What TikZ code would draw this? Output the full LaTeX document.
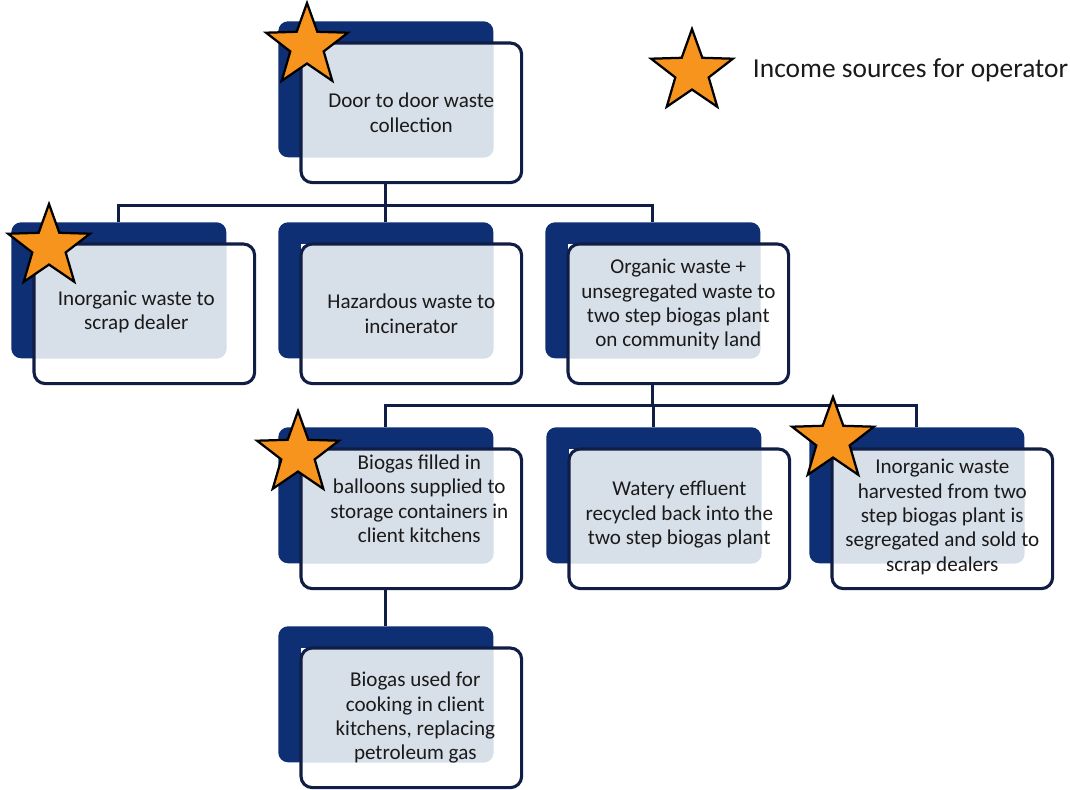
\documentclass[tikz,border=0pt]{standalone}
\usepackage{fontspec}
\setmainfont{Carlito}
\usepackage{xcolor}
\usepackage{tikz}
\usetikzlibrary{positioning, calc, shapes.geometric}
\definecolor{cnavy}{HTML}{0E2F73}
\definecolor{cedge}{HTML}{101E45}
\definecolor{cpale}{HTML}{D7DFE9}
\definecolor{cstar}{HTML}{F7941E}
\definecolor{ctext}{HTML}{1A1A1A}

\tikzset{
  backbox/.style={fill=cnavy, rounded corners=7pt, minimum width=5.375cm, minimum height=3.4cm,
    inner sep=0pt, anchor=north west},
  frontbox/.style={fill=white, minimum width=5.5cm, minimum height=3.475cm, inner sep=0pt,
    anchor=north west},
  cardedge/.style={draw=cedge, line width=2.2pt, rounded corners=8pt},
  cardtext/.style={font=\fontsize{15}{17.3}\selectfont, text=ctext, align=center},
  conn/.style={draw=cedge, line width=2.2pt},
  incstar/.style={star, star points=5, star point ratio=2.45, minimum size=2.15cm, inner sep=0pt,
    fill=cstar, draw=black, line width=1.6pt}
}

\begin{document}
\begin{tikzpicture}[x=0.025cm, y=-0.025cm]
  \useasboundingbox (0,0) rectangle (1070,789);

  %% back boxes first, so the connectors can hang from them
  \foreach \nm/\x/\y in {top/278/21, inorg/11/222, haz/278/222, org/545/222,
                         biogas/278/427, water/546/427, harv/809/427, cook/278/626}{
    \node[backbox] (\nm-b) at (\x,\y) {};
  }

  %% connectors
  \coordinate (bus1) at ($(top-b.south)+(0,48)$);
  \coordinate (bus2) at ($(org-b.south)+(0,47)$);
  \draw[conn] (top-b.south) -- (bus1);
  \draw[conn] (inorg-b.north) |- (bus1) -| (org-b.north);
  \draw[conn] (haz-b.north) -- (haz-b.north |- bus1);
  \draw[conn] (org-b.south) -- (bus2);
  \draw[conn] (biogas-b.north) |- (bus2) -| (harv-b.north);
  \draw[conn] (water-b.north) -- (water-b.north |- bus2);
  \draw[conn] (biogas-b.south) -- (cook-b.north);

  %% front cards with their pale overlap and text
  \foreach \nm/\dx/\dy/\txt in {
      top/0/0/{Door to door waste\\collection},
      inorg/-8/-2/{Inorganic waste to\\scrap dealer},
      haz/0/0/{Hazardous waste to\\incinerator},
      org/0/-9/{Organic waste +\\unsegregated waste to\\two step biogas plant\\on community land},
      biogas/8/-20/{Biogas filled in\\balloons supplied to\\storage containers in\\client kitchens},
      water/0/-4/{Watery effluent\\recycled back into the\\two step biogas plant},
      harv/0/-2/{Inorganic waste\\harvested from two\\step biogas plant is\\segregated and sold to\\scrap dealers},
      cook/4/0/{Biogas used for\\cooking in client\\kitchens, replacing\\petroleum gas}}{
    \node[frontbox] (\nm-f) at ($(\nm-b.north west)+(23,22)$) {};
    \begin{scope}
      \clip[rounded corners=7pt] (\nm-b.south west) rectangle (\nm-b.north east);
      \fill[cpale, rounded corners=8pt] (\nm-f.south west) rectangle (\nm-f.north east);
    \end{scope}
    \draw[cardedge] (\nm-f.south west) rectangle (\nm-f.north east);
    \node[cardtext] (\nm-t) at ($(\nm-f.center)+(\dx,\dy)$) {\txt};
  }

  %% income stars
  \node[incstar] (top-s) at (307,46) {};
  \node[incstar] (inorg-s) at (49,247) {};
  \node[incstar] (biogas-s) at (298,454) {};
  \node[incstar] (harv-s) at (833,440) {};

  %% legend
  \node[incstar] (legend-s) at (692,72) {};
  \node[font=\fontsize{19.5}{22}\selectfont, text=ctext, anchor=west] (legend-t) at (748,70)
    {Income sources for operator};

\end{tikzpicture}
\end{document}
